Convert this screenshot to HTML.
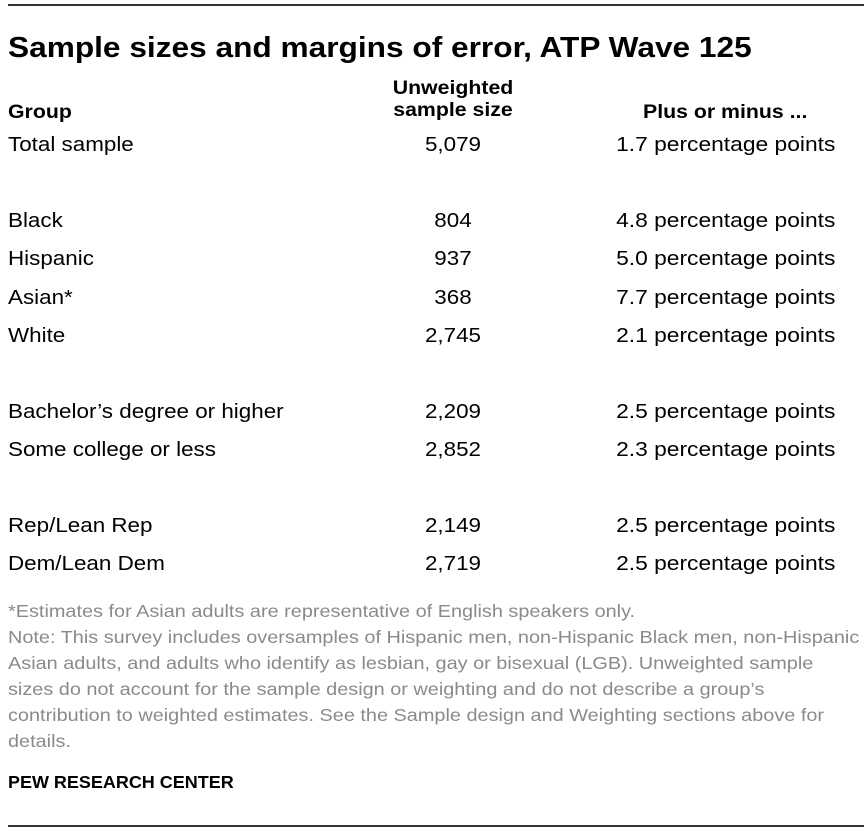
<!DOCTYPE html>
<html><head><style>
body{margin:0;width:864px;height:832px;background:#fff;position:relative;font-family:"Liberation Sans",sans-serif;color:#000;overflow:hidden}
.a{position:absolute;white-space:nowrap}
.hr{position:absolute;left:8px;right:0;height:2px;background:#333}
.r{font-size:20px;line-height:24px}
.l{left:8px;transform:scaleX(1.12);transform-origin:left}
.n{width:200px;left:353px;text-align:center;transform:scaleX(1.12)}
.p{right:29px;text-align:right;transform:scaleX(1.14);transform-origin:right}
.h{font-weight:bold;font-size:19px;line-height:22px}
.f{left:8px;font-size:17.3px;line-height:26px;color:#8a8a8a;transform:scaleX(1.15);transform-origin:left}
</style></head><body>
<div class="hr" style="top:4px"></div>
<div class="a" style="left:8px;top:30px;font-size:28.5px;font-weight:bold;line-height:36px;transform:scaleX(1.11);transform-origin:left">Sample sizes and margins of error, ATP Wave 125</div>
<div class="a h l" style="top:102px">Group</div>
<div class="a h n" style="top:78px">Unweighted<br>sample size</div>
<div class="a h" style="left:643px;top:102px;transform:scaleX(1.12);transform-origin:left">Plus or minus ...</div>

<div class="a r l" style="top:133px">Total sample</div><div class="a r n" style="top:133px">5,079</div><div class="a r p" style="top:133px">1.7 percentage points</div>
<div class="a r l" style="top:209px">Black</div><div class="a r n" style="top:209px">804</div><div class="a r p" style="top:209px">4.8 percentage points</div>
<div class="a r l" style="top:247px">Hispanic</div><div class="a r n" style="top:247px">937</div><div class="a r p" style="top:247px">5.0 percentage points</div>
<div class="a r l" style="top:286px">Asian*</div><div class="a r n" style="top:286px">368</div><div class="a r p" style="top:286px">7.7 percentage points</div>
<div class="a r l" style="top:324px">White</div><div class="a r n" style="top:324px">2,745</div><div class="a r p" style="top:324px">2.1 percentage points</div>
<div class="a r l" style="top:400px">Bachelor’s degree or higher</div><div class="a r n" style="top:400px">2,209</div><div class="a r p" style="top:400px">2.5 percentage points</div>
<div class="a r l" style="top:438px">Some college or less</div><div class="a r n" style="top:438px">2,852</div><div class="a r p" style="top:438px">2.3 percentage points</div>
<div class="a r l" style="top:514px">Rep/Lean Rep</div><div class="a r n" style="top:514px">2,149</div><div class="a r p" style="top:514px">2.5 percentage points</div>
<div class="a r l" style="top:552px">Dem/Lean Dem</div><div class="a r n" style="top:552px">2,719</div><div class="a r p" style="top:552px">2.5 percentage points</div>

<div class="a f" style="top:598px">*Estimates for Asian adults are representative of English speakers only.<br>Note: This survey includes oversamples of Hispanic men, non-Hispanic Black men, non-Hispanic<br>Asian adults, and adults who identify as lesbian, gay or bisexual (LGB). Unweighted sample<br>sizes do not account for the sample design or weighting and do not describe a group’s<br>contribution to weighted estimates. See the Sample design and Weighting sections above for<br>details.</div>
<div class="a" style="left:8px;top:771px;font-size:17.3px;font-weight:bold;line-height:22px;transform:scaleX(1.04);transform-origin:left">PEW RESEARCH CENTER</div>
<div class="hr" style="top:825px"></div>
</body></html>
